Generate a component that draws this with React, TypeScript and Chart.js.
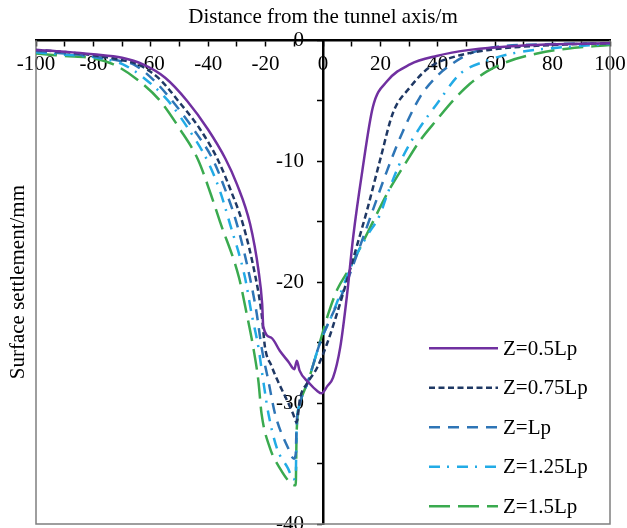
import React, { useEffect, useRef } from 'react';
import { Chart, registerables } from 'chart.js';

Chart.register(...registerables);

const FONT = "'Liberation Serif', 'Times New Roman', serif";

const seriesLabels = ['Z=0.5Lp', 'Z=0.75Lp', 'Z=Lp', 'Z=1.25Lp', 'Z=1.5Lp'];

const xs05 = [-100, -90, -80, -70, -62.7, -55, -47.4, -40, -34, -30, -25.4, -22.5, -21.2, -20.8, -18, -15, -12, -10, -9.1, -8.2, -5, -2, -0.5, 1.5, 3.5, 6, 8.4, 10.5, 13.7, 17.4, 22.3, 30.3, 39.6, 51.2, 68.6, 85, 100];
const ys05 = [-0.8, -0.95, -1.16, -1.45, -2.0, -3.1, -5.0, -7.4, -9.8, -11.9, -15.2, -19.0, -21.8, -23.7, -24.6, -25.7, -26.6, -27.2, -26.5, -27.3, -28.3, -29.0, -29.2, -28.6, -27.9, -25.4, -21.0, -16.3, -10.8, -5.5, -3.4, -2.0, -1.3, -0.8, -0.45, -0.32, -0.25];

const xs075 = [-100, -90, -80, -70, -64.5, -57, -50.5, -43, -36.6, -32, -27.9, -23.5, -21.4, -20.2, -18, -15.7, -12.5, -10.4, -9.2, -8, -5.6, -2.1, 1.4, 5, 9.4, 11.7, 15.3, 19.9, 24.4, 30.3, 37.3, 45.3, 57, 68.6, 85, 100];
const ys075 = [-0.8, -0.98, -1.25, -1.65, -2.0, -3.2, -5.0, -7.3, -9.9, -12.5, -15.2, -19.6, -22.6, -25.4, -26.9, -28.2, -29.8, -30.9, -31.6, -29.6, -28.4, -27.1, -25.1, -22.5, -19.0, -17.1, -14.1, -9.9, -6.0, -3.9, -2.2, -1.4, -0.83, -0.55, -0.35, -0.25];

const xs10 = [-100, -90, -80, -70, -66, -59, -52.6, -45, -38.3, -34, -30, -25.5, -23.1, -21.4, -19, -16.7, -12.2, -10.1, -9.5, -9.2, -8, -5.2, -1, 3, 7, 10.5, 16.4, 22.3, 27.9, 33.8, 39.6, 45.3, 51.2, 59, 75, 100];
const ys10 = [-0.9, -1.1, -1.35, -1.75, -2.0, -3.3, -5.0, -7.4, -9.9, -12.4, -15.2, -19.6, -22.6, -25.4, -28.2, -30.9, -33.7, -34.6, -34.2, -31.8, -30.0, -28.2, -25.0, -22.8, -20.8, -18.6, -14.7, -10.8, -7.5, -4.7, -3.0, -1.9, -1.1, -0.6, -0.35, -0.25];

const xs125 = [-100, -90, -80, -69.7, -62, -54, -47, -40.4, -36, -32.4, -27.2, -24.9, -22.5, -20.8, -19, -16.1, -12.2, -10.3, -9.5, -9.2, -8, -5.2, -1, 3, 6, 10.5, 15.3, 19.9, 22.3, 27.9, 33.8, 39.6, 47.7, 57, 68, 80, 100];
const ys125 = [-1.0, -1.2, -1.4, -2.0, -3.2, -5.0, -7.3, -9.9, -12.4, -15.2, -19.6, -22.6, -25.4, -28.2, -30.9, -33.7, -35.4, -36.3, -36.0, -32.3, -30.0, -28.2, -25.0, -22.8, -21.0, -18.3, -16.2, -14.4, -12.8, -9.6, -7.2, -5.3, -2.8, -1.7, -1.0, -0.66, -0.3];

const xs15 = [-100, -90, -80, -73, -65, -56.8, -50, -43.5, -39, -35.9, -29.3, -26.6, -24.3, -22.5, -21.4, -18.5, -15, -10.9, -9.5, -9.2, -8, -5.2, -1, 2, 5, 9.4, 16.4, 22.3, 29.2, 33.8, 39.6, 45.3, 51.2, 57, 64, 74.6, 85, 100];
const ys15 = [-1.1, -1.3, -1.5, -2.0, -3.2, -5.0, -7.3, -9.9, -12.8, -15.0, -19.6, -22.6, -25.4, -28.2, -30.9, -33.7, -35.4, -36.7, -36.8, -32.5, -30.0, -28.2, -24.9, -22.5, -20.6, -18.8, -15.5, -12.7, -10.0, -8.3, -6.6, -5.0, -3.6, -2.6, -1.8, -1.1, -0.7, -0.4];

const seriesX = [xs05, xs075, xs10, xs125, xs15];
const seriesY = [ys05, ys075, ys10, ys125, ys15];
const seriesColors = ['#7030A0', '#1F3864', '#2E75B6', '#22ABE6', '#3AAA4F'];
const seriesDash: number[][] = [[], [6, 3.5], [11, 8], [11, 7, 2, 8], [21, 8]];

const xTitle = 'Distance from the tunnel axis/m';
const yTitle = 'Surface settlement/mm';

const framePlugin = {
  id: 'frame',
  beforeDatasetsDraw(chart: any) {
    const { ctx, chartArea } = chart;
    const { left, right, top, bottom } = chartArea;
    ctx.save();
    ctx.strokeStyle = '#7f7f7f';
    ctx.lineWidth = 1.5;
    ctx.beginPath();
    ctx.moveTo(left, top);
    ctx.lineTo(left, bottom);
    ctx.lineTo(right, bottom);
    ctx.lineTo(right, top);
    ctx.stroke();
    ctx.restore();
  },
};

const legendPlugin = {
  id: 'customLegend',
  afterDraw(chart: any) {
    const { ctx, chartArea } = chart;
    const x0 = chartArea.right - 181;
    const y0 = chartArea.top + 308;
    ctx.save();
    chart.data.datasets.forEach((ds: any, i: number) => {
      const y = y0 + i * 39.5;
      ctx.beginPath();
      ctx.setLineDash(ds.borderDash || []);
      ctx.strokeStyle = ds.borderColor;
      ctx.lineWidth = ds.borderWidth;
      ctx.moveTo(x0, y);
      ctx.lineTo(x0 + 69, y);
      ctx.stroke();
      ctx.setLineDash([]);
      ctx.fillStyle = '#000';
      ctx.font = `21px ${FONT}`;
      ctx.textAlign = 'left';
      ctx.textBaseline = 'middle';
      ctx.fillText(ds.label, x0 + 74, y + 1);
    });
    ctx.restore();
  },
};

export default function App() {
  const ref = useRef<HTMLCanvasElement | null>(null);
  useEffect(() => {
    if (!ref.current) return;
    const datasets = seriesLabels.map((label, i) => ({
      label,
      data: seriesX[i].map((x, j) => ({ x, y: seriesY[i][j] })),
      borderColor: seriesColors[i],
      backgroundColor: seriesColors[i],
      borderDash: seriesDash[i],
      borderWidth: 2.5,
      pointRadius: 0,
      fill: false,
      cubicInterpolationMode: 'monotone' as const,
    }));
    const zeroPad = (scale: any) => {
      scale.paddingTop = 0;
      scale.paddingBottom = 0;
      scale.paddingLeft = 0;
      scale.paddingRight = 0;
    };
    const tickFont = { family: FONT, size: 21 };
    const chart = new Chart(ref.current, {
      type: 'line',
      data: { datasets },
      plugins: [framePlugin, legendPlugin],
      options: {
        animation: false,
        responsive: false,
        maintainAspectRatio: false,
        layout: { padding: { left: 0, right: 17, top: 0, bottom: 4 } },
        plugins: {
          legend: { display: false },
          tooltip: { enabled: false },
          title: {
            display: true,
            text: xTitle,
            fullSize: false,
            color: '#000',
            font: { family: FONT, size: 21, weight: 'normal' },
            padding: { top: 5, bottom: 10 },
          },
        },
        scales: {
          x: {
            type: 'linear',
            position: { y: 0 } as any,
            min: -100,
            max: 100,
            afterFit: zeroPad,
            ticks: {
              stepSize: 10,
              autoSkip: false,
              maxRotation: 0,
              padding: 7,
              color: '#000',
              font: tickFont,
              callback: (v: any) => (Number(v) % 20 === 0 ? String(v) : ''),
            },
            grid: { display: true, drawOnChartArea: false, drawTicks: true, tickLength: 5, tickWidth: 1.5, tickColor: '#000' },
            border: { display: true, color: '#000', width: 2.5 },
          },
          y: {
            type: 'linear',
            position: { x: 0 } as any,
            min: -40,
            max: 0,
            afterFit: zeroPad,
            ticks: { stepSize: 5, autoSkip: false, display: false },
            grid: { display: true, drawOnChartArea: false, drawTicks: true, tickLength: 5, tickWidth: 1.5, tickColor: '#000' },
            border: { display: true, color: '#000', width: 2.5 },
          },
          yLabels: {
            type: 'linear',
            position: { x: -6.6 } as any,
            min: -40,
            max: 0,
            afterFit: zeroPad,
            ticks: {
              stepSize: 10,
              autoSkip: false,
              padding: 0,
              color: '#000',
              font: tickFont,
              callback: (v: any) => String(v),
            },
            grid: { display: false },
            border: { display: false },
          },
          yTitle: {
            type: 'linear',
            position: 'left',
            display: true,
            afterFit: (scale: any) => {
              scale.width = 36;
            },
            ticks: { display: false },
            grid: { display: false },
            border: { display: false },
            title: {
              display: true,
              text: yTitle,
              color: '#000',
              font: { family: FONT, size: 21 },
              padding: { top: 6, bottom: 4 },
            },
          },
        },
      } as any,
    });
    return () => chart.destroy();
  }, []);
  return (
    <div style={{ position: 'fixed', left: 0, top: 0, width: 627, height: 528, background: '#fff' }}>
      <canvas ref={ref} width={627} height={528} style={{ width: 627, height: 528, display: 'block' }} />
    </div>
  );
}
